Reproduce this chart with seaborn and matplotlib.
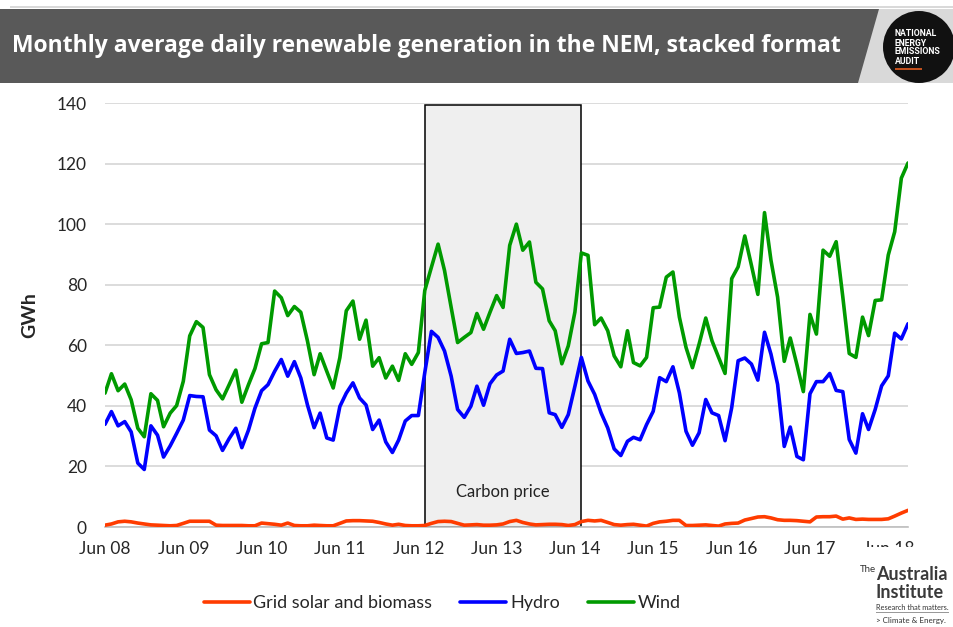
import numpy as np
import pandas as pd
import matplotlib
matplotlib.use('Agg')
import matplotlib.pyplot as plt
import matplotlib.dates as mdates
from matplotlib.patches import Rectangle, Polygon, Circle
from matplotlib.ticker import FuncFormatter, MultipleLocator
import seaborn as sns

# Monthly data Jun 2008 - Sep 2018 (GWh/day)
months = pd.date_range('2008-06-01', '2018-09-01', freq='MS')

# bottom layer
solar_biomass = [
    0.6, 1.0, 1.7, 1.9, 1.7, 1.3, 1.0, 0.7, 0.6, 0.5, 0.4, 0.5, 1.2, 1.9, 1.9, 1.9, 1.9, 0.6, 0.5, 0.5,
    0.5, 0.5, 0.4, 0.4, 1.3, 1.1, 0.9, 0.6, 1.3, 0.5, 0.4, 0.4, 0.6, 0.5, 0.4, 0.4, 1.2, 2.0, 2.1, 2.1,
    2.0, 1.9, 1.5, 1.0, 0.6, 0.9, 0.5, 0.4, 0.4, 0.5, 1.2, 1.8, 1.9, 1.8, 1.2, 0.6, 0.7, 0.8, 0.6, 0.6,
    0.7, 1.0, 1.8, 2.2, 1.5, 1.0, 0.7, 0.8, 0.9, 0.9, 0.8, 0.5, 0.8, 1.8, 2.2, 2.0, 2.2, 1.5, 0.8, 0.6,
    0.8, 0.9, 0.6, 0.3, 1.2, 1.7, 1.9, 2.2, 2.2, 0.5, 0.5, 0.6, 0.7, 0.5, 0.3, 1.0, 1.2, 1.3, 2.3, 2.8,
    3.3, 3.4, 3.0, 2.4, 2.2, 2.2, 2.1, 1.9, 1.7, 3.3, 3.4, 3.4, 3.6, 2.6, 3.0, 2.5, 2.6, 2.5, 2.5, 2.5,
    2.7, 3.6, 4.6, 5.5,
]

# solar + biomass + hydro
hydro_stack = [
    33.9, 38.1, 33.4, 34.8, 31.4, 21.1, 19.0, 33.4, 30.3, 23.1, 26.8, 30.9, 35.3, 43.4, 43.1, 43.0, 32.0, 30.1, 25.3, 29.2,
    32.6, 26.2, 32.0, 39.2, 45.0, 47.0, 51.4, 55.3, 49.8, 54.6, 49.2, 40.3, 32.8, 37.6, 29.4, 28.7, 39.8, 44.2, 47.6, 42.6,
    40.3, 32.2, 35.3, 28.1, 24.6, 28.7, 35.0, 36.8, 36.8, 51.0, 64.6, 62.6, 58.1, 49.8, 38.8, 36.2, 39.9, 46.5, 40.2, 47.3,
    50.2, 51.5, 62.0, 57.3, 57.6, 58.1, 52.4, 52.3, 37.7, 37.1, 32.9, 37.1, 46.5, 56.0, 48.2, 43.8, 37.7, 32.7, 25.8, 23.6,
    28.3, 29.6, 28.8, 33.8, 38.2, 49.3, 48.0, 52.9, 44.3, 31.6, 27.0, 31.1, 42.1, 37.7, 36.8, 28.5, 39.4, 54.9, 55.8, 53.8,
    48.5, 64.3, 57.1, 47.1, 26.6, 33.0, 23.3, 22.2, 44.0, 48.0, 48.0, 50.7, 45.1, 44.7, 28.9, 24.4, 37.4, 32.2, 38.8, 46.6,
    49.9, 64.0, 62.1, 67.1,
]

# total: solar + biomass + hydro + wind
wind_stack = [
    44.2, 50.6, 45.0, 47.2, 42.0, 32.6, 29.8, 44.0, 41.8, 33.1, 37.6, 40.1, 48.1, 63.1, 67.8, 65.9, 50.3, 45.3, 42.3, 47.0,
    51.8, 41.2, 47.0, 52.3, 60.5, 60.9, 77.9, 75.7, 69.8, 72.8, 70.9, 61.4, 50.3, 57.2, 51.4, 45.9, 55.9, 71.4, 74.6, 62.0,
    68.3, 53.1, 55.9, 49.2, 53.1, 48.4, 57.2, 53.7, 57.6, 78.1, 85.8, 93.4, 84.7, 72.5, 60.9, 62.6, 64.2, 70.5, 65.3, 70.9,
    76.4, 72.5, 93.0, 100.0, 91.4, 94.1, 80.8, 78.6, 68.1, 64.8, 53.9, 59.8, 71.0, 90.5, 89.7, 66.8, 69.0, 64.8, 56.5, 52.9,
    64.8, 54.3, 53.2, 56.0, 72.4, 72.6, 82.5, 84.2, 69.3, 59.3, 52.6, 60.4, 69.0, 61.5, 56.0, 50.7, 82.0, 85.9, 96.1, 86.4,
    76.8, 103.8, 88.1, 75.9, 54.7, 62.4, 53.6, 44.7, 70.2, 63.7, 91.4, 89.4, 94.2, 76.0, 57.3, 56.0, 69.3, 63.2, 74.8, 75.0,
    89.8, 97.5, 115.2, 120.2,
]

series_names = ['Grid solar and biomass', 'Hydro', 'Wind']
series_colors = ['#ff3c00', '#0000ff', '#009a00']

carbon_start = '2012-07-01'
carbon_end = '2014-07-01'
carbon_label = 'Carbon price'

title = 'Monthly average daily renewable generation in the NEM, stacked format'

sns.set_theme(style='white')
plt.rcParams['font.family'] = ['Lato', 'DejaVu Sans']

df = pd.DataFrame({
    'month': np.tile(months.values, 3),
    'series': np.repeat(series_names, len(months)),
    'GWh': np.concatenate([solar_biomass, hydro_stack, wind_stack]),
})

W, H = 954, 627
fig = plt.figure(figsize=(W / 100, H / 100), dpi=100)
ax = fig.add_axes([105 / W, 1 - 527 / H, 803 / W, 424 / H])

# carbon price period box
x0 = mdates.date2num(pd.Timestamp(carbon_start))
x1 = mdates.date2num(pd.Timestamp(carbon_end))
ax.add_patch(Rectangle((x0, 0), x1 - x0, 139.4, facecolor='#efefef', edgecolor='black', lw=1.1, zorder=1))
ax.text((x0 + x1) / 2, 11.5, carbon_label, ha='center', va='center', fontsize=12, color='#222222', zorder=2)

sns.lineplot(data=df, x='month', y='GWh', hue='series', hue_order=series_names,
             palette=series_colors, linewidth=2.6, errorbar=None, ax=ax, zorder=3)

ax.set_xlim(mdates.date2num(months[0]), mdates.date2num(months[-1]))
ax.set_ylim(0, 140)
ax.yaxis.set_major_locator(MultipleLocator(20))
ax.grid(axis='y', color='#d9d9d9', lw=1.3)
ax.set_axisbelow(True)

ax.xaxis.set_major_locator(mdates.MonthLocator(bymonth=[6, 12]))
ax.xaxis.set_major_formatter(FuncFormatter(
    lambda v, p: mdates.num2date(v).strftime('%b %y') if mdates.num2date(v).month == 6 else ''))
ax.tick_params(axis='x', direction='out', length=5, width=1, color='#bfbfbf', pad=5, labelsize=12.5)
ax.tick_params(axis='y', length=0, pad=13, labelsize=12.5)

for s in ['left', 'top', 'right']:
    ax.spines[s].set_visible(False)
ax.spines['bottom'].set_color('#bfbfbf')
ax.spines['bottom'].set_linewidth(1.2)

ax.set_xlabel('')
ax.set_ylabel('GWh', fontsize=14, fontweight='bold')
ax.yaxis.set_label_coords(-(105 - 38) / 803, 0.5)

handles, labels = ax.get_legend_handles_labels()
ax.get_legend().remove()
fig.legend(handles, labels, loc='center', bbox_to_anchor=(442 / W, 1 - 603 / H), ncol=3, frameon=False,
           fontsize=13, handlelength=2.55, handletextpad=0.2, columnspacing=1.55)


def px(x, y):
    # pixel position (from top-left) to figure fraction
    return (x / W, 1 - y / H)


# header bar
fig.patches.append(Polygon([px(10, 6), px(954, 6), px(954, 8), px(10, 8)], closed=True,
                           transform=fig.transFigure, facecolor='#d9d9d9', edgecolor='none'))
fig.patches.append(Polygon([px(866, 9), px(954, 9), px(954, 83), px(852, 83)], closed=True,
                           transform=fig.transFigure, facecolor='#d9d9d9', edgecolor='none'))
fig.patches.append(Polygon([px(0, 9), px(879, 9), px(858, 83), px(0, 83)], closed=True,
                           transform=fig.transFigure, facecolor='#595959', edgecolor='none'))
t = fig.text(12 / W, 1 - 46 / H, title, color='white', fontsize=18, fontweight='bold',
             family=['Open Sans', 'DejaVu Sans'], ha='left', va='center')
fig.canvas.draw()
tw = t.get_window_extent().width
t.set_fontsize(18 * 831 / tw)

# NEEA logo
fig.patches.append(Circle((9.19, (H - 47) / 100), 0.36, transform=fig.dpi_scale_trans,
                          facecolor='#111111', edgecolor='none'))
for k, word in enumerate(['NATIONAL', 'ENERGY', 'EMISSIONS', 'AUDIT']):
    fig.text(895 / W, 1 - (34 + 9 * k) / H, word, color='white', fontsize=6.3, fontweight='bold',
             family=['Roboto', 'DejaVu Sans'], ha='left', va='center')
fig.patches.append(Rectangle(px(895, 70), 27 / W, 2 / H, transform=fig.transFigure,
                             facecolor='#c0501e', edgecolor='none'))

# Australia Institute logo (covers the lower part of the last tick label)
fig.patches.append(Rectangle(px(858, 627), 96 / W, 80 / H, transform=fig.transFigure,
                             facecolor='white', edgecolor='none', zorder=5))
fig.text(860 / W, 1 - 570 / H, 'The', fontsize=7, color='#333333', ha='left', va='center', zorder=6)
fig.text(876 / W, 1 - 574 / H, 'Australia', fontsize=13, fontweight='bold', color='#3a3a3a',
         ha='left', va='center', zorder=6)
fig.text(876 / W, 1 - 592 / H, 'Institute', fontsize=13, fontweight='bold', color='#3a3a3a',
         ha='left', va='center', zorder=6)
fig.text(876 / W, 1 - 607 / H, 'Research that matters.', fontsize=5.3, color='#333333',
         ha='left', va='center', zorder=6)
fig.patches.append(Rectangle(px(876, 613), 73 / W, 1 / H, transform=fig.transFigure,
                             facecolor='#999999', edgecolor='none', zorder=6))
fig.text(876 / W, 1 - 620 / H, '> Climate & Energy.', fontsize=5.8, color='#333333',
         ha='left', va='center', zorder=6)

fig.savefig('out.png', dpi=100)
